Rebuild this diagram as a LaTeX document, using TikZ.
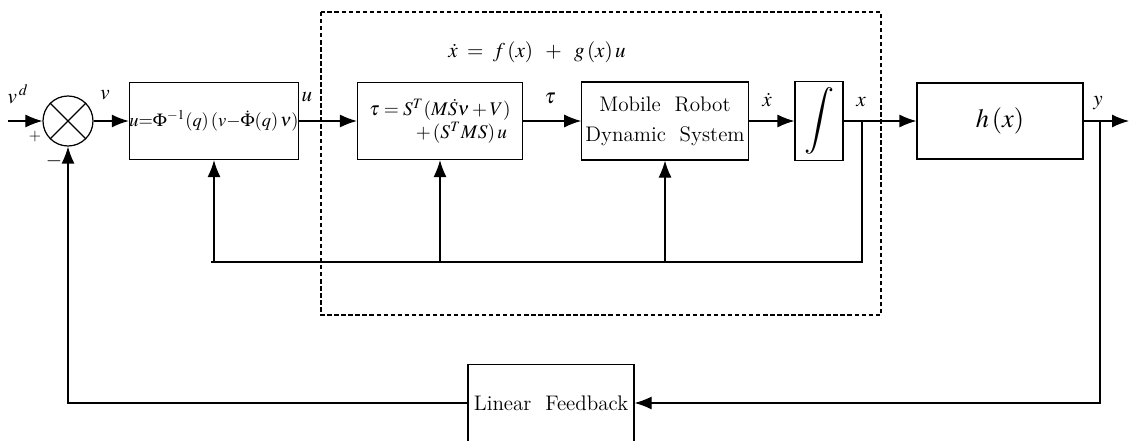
\documentclass[tikz,border=0pt]{standalone}
\usepackage{mathptmx}
\usetikzlibrary{arrows.meta}
\tikzset{
  wire/.style={line width=0.7pt},
  blk/.style={draw, wire, inner sep=2pt, align=center},
  sig/.style={wire, -{Latex[length=3.4mm,width=2.6mm]}},
  lbl/.style={inner sep=0pt}
}
\begin{document}
\begin{tikzpicture}[x=0.2mm,y=-0.2mm,font=\fontsize{12}{17}\selectfont]
  \useasboundingbox (0,0) rectangle (1129,441);
  \clip (0,0) rectangle (1129,441);
  \draw[wire, line width=0.6pt, dash pattern=on 2.5pt off 1.5pt] (321,12) rectangle (881,315);
  \node[lbl] (eqn) at (537,52) {$\dot x\;=\;f\,(x)\;\;+\;\;g\,(x)\,u$};

  \node[draw, wire, circle, minimum size=10mm, inner sep=0pt] (sum) at (68,121) {};
  \draw[wire] (sum.north west) -- (sum.south east) (sum.north east) -- (sum.south west);
  \node[blk, minimum width=32.8mm, minimum height=15.4mm, inner sep=0pt, font=\fontsize{10.5}{12}\selectfont] (ctrl) at (214,121)
    {$u{=}\Phi^{-1}(q)\,(v{-}\dot\Phi(q)\,\nu)$};
  \node[blk, minimum width=33mm, minimum height=15.4mm, align=left, font=\fontsize{11}{15}\selectfont] (torque) at (440,121)
    {$\tau = S^T(M\dot S\nu+V)$\\[-2pt]\hspace{2.4em}$+\,(S^TMS)\,u$};
  \node[blk, minimum width=33mm, minimum height=15.6mm] (robot) at (665,121)
    {Mobile\ \ Robot\\Dynamic\ \ System};
  \node[blk, minimum width=9.6mm, minimum height=15.8mm, inner sep=0pt, font=\fontsize{19}{19}\selectfont] (integ) at (819,121)
    {$\displaystyle\int$};
  \node[blk, minimum width=33.2mm, minimum height=15.2mm, font=\fontsize{15}{17}\selectfont] (hx) at (1000,121)
    {$h\,(x)$};
  \node[blk, minimum width=33.2mm, minimum height=15.4mm] (lfb) at (551,403)
    {Linear\ \ Feedback};

  \coordinate (in) at (8,121);
  \coordinate (xj) at (862,121);
  \coordinate (yj) at (1100,121);
  \coordinate (out) at (1129,121);
  \coordinate (fbl) at (211,262);

  \draw[sig] (in) -- (sum);
  \draw[sig] (sum) -- (ctrl);
  \draw[sig] (ctrl) -- (torque);
  \draw[sig] (torque) -- (robot);
  \draw[sig] (robot) -- (integ);
  \draw[sig] (integ) -- (hx);
  \draw[sig] (hx) -- (out);
  \draw[wire] (xj) |- (fbl);
  \foreach \b in {ctrl,torque,robot}
    \draw[sig] (\b.south |- fbl) -- (\b.south);
  \draw[sig] (yj) |- (lfb.east);
  \draw[sig] (lfb.west) -| (sum.south);

  \node[lbl] at (18,94) {$v^{\,d}$};
  \node[lbl, font=\small] at (35,137) {$+$};
  \node[lbl] at (54,161) {$-$};
  \node[lbl] at (105,95) {$v$};
  \node[lbl] at (307,97) {$u$};
  \node[lbl] at (550,98) {$\tau$};
  \node[lbl] at (767,100) {$\dot x$};
  \node[lbl] at (861,102) {$x$};
  \node[lbl] at (1098,103) {$y$};
\end{tikzpicture}
\end{document}
